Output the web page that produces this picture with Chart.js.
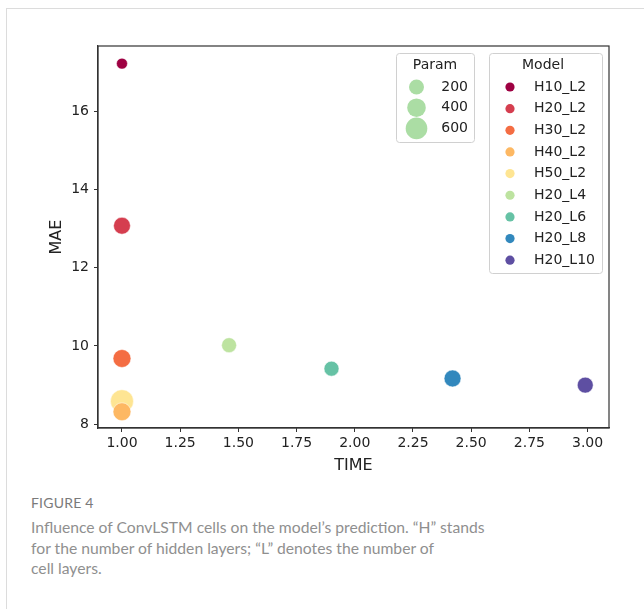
<!DOCTYPE html>
<html>
<head>
<meta charset="utf-8">
<script src="https://cdn.jsdelivr.net/npm/chart.js@4"></script>
<style>
  html, body { margin: 0; padding: 0; background: #fff; }
  body { width: 644px; height: 609px; position: relative; overflow: hidden; }
  .card { position: absolute; left: 6px; top: 8px; width: 700px; height: 700px;
          border-left: 1px solid #dcdcdc; border-top: 1px solid #dcdcdc; }
  #chart { position: absolute; left: 0; top: 0; }
  .fig { position: absolute; left: 31px; top: 494px; font-family: Lato, "Open Sans", sans-serif;
         font-size: 14px; color: #7a7a7a; letter-spacing: 0.2px; }
  .cap { position: absolute; left: 31px; top: 517px; font-family: Lato, "Open Sans", sans-serif;
         font-size: 15.7px; line-height: 20.5px; color: #8f8f8f; white-space: nowrap; }
</style>
</head>
<body>
<div class="card"></div>
<canvas id="chart" width="644" height="490"></canvas>
<div class="fig">FIGURE 4</div>
<div class="cap">Influence of ConvLSTM cells on the model’s prediction. “H” stands<br>for the number of hidden layers; “L” denotes the number of<br>cell layers.</div>
<script>
// data
var models = ["H10_L2", "H20_L2", "H30_L2", "H40_L2", "H50_L2", "H20_L4", "H20_L6", "H20_L8", "H20_L10"];
var timeVals = [1.00, 1.00, 1.00, 1.00, 1.00, 1.46, 1.90, 2.42, 2.99];
var maeVals = [17.21, 13.07, 9.68, 8.32, 8.59, 10.02, 9.42, 9.17, 9.00];
var paramVals = [30, 300, 360, 360, 700, 200, 200, 300, 250];
var paramLegend = [200, 400, 600];
var xTicks = [1.00, 1.25, 1.50, 1.75, 2.00, 2.25, 2.50, 2.75, 3.00];
var yTicks = [8, 10, 12, 14, 16];

var modelColors = ["#9e0142", "#d53e4f", "#f46d43", "#fdb863", "#fee593",
                   "#bde3a0", "#66c2a5", "#3288bd", "#5e4fa2"];
var sizeColor = "#abdda4";
var ink = "#222222";
var tickFont = { family: "'DejaVu Sans'", size: 14 };

// marker area grows with the parameter count
function radiusFor(p) {
    return Math.sqrt(25.5 + 0.1525 * p);
}

var datasets = models.map(function (m, i) {
    return {
        label: m,
        data: [{ x: timeVals[i], y: maeVals[i] }],
        backgroundColor: modelColors[i],
        borderColor: "#ffffff",
        borderWidth: 0.5,
        pointRadius: radiusFor(paramVals[i]),
        pointHoverRadius: radiusFor(paramVals[i])
    };
});

function legendBox(ctx, x, y, w, h) {
    ctx.save();
    ctx.fillStyle = "rgba(255,255,255,0.8)";
    ctx.strokeStyle = "#d0d0d0";
    ctx.lineWidth = 1;
    ctx.beginPath();
    ctx.roundRect(x + 0.5, y + 0.5, w, h, 3);
    ctx.fill();
    ctx.stroke();
    ctx.restore();
}

var framePlugin = {
    id: "frame",
    afterDatasetsDraw: function (chart) {
        var a = chart.chartArea, ctx = chart.ctx;
        ctx.save();
        ctx.strokeStyle = "#333";
        ctx.lineWidth = 1.2;
        ctx.strokeRect(a.left, a.top, a.right - a.left, a.bottom - a.top);
        ctx.restore();
    },
    afterDraw: function (chart) {
        var ctx = chart.ctx;
        ctx.save();
        ctx.font = "14px 'DejaVu Sans'";
        ctx.textBaseline = "middle";

        // size legend
        legendBox(ctx, 396, 53, 78, 89);
        ctx.fillStyle = ink;
        ctx.textAlign = "center";
        ctx.fillText("Param", 435, 65);
        paramLegend.forEach(function (p, i) {
            var cy = 87 + i * 20.7;
            ctx.beginPath();
            ctx.fillStyle = sizeColor;
            ctx.arc(416.5, cy, radiusFor(p), 0, Math.PI * 2);
            ctx.fill();
            ctx.fillStyle = ink;
            ctx.textAlign = "right";
            ctx.fillText(String(p), 468, cy);
        });

        // colour legend
        legendBox(ctx, 489, 53, 113, 220);
        ctx.textAlign = "center";
        ctx.fillText("Model", 543, 65);
        chart.data.datasets.forEach(function (ds, i) {
            var cy = 87 + i * 21.65;
            ctx.beginPath();
            ctx.fillStyle = ds.backgroundColor;
            ctx.arc(510, cy, 4.6, 0, Math.PI * 2);
            ctx.fill();
            ctx.fillStyle = ink;
            ctx.textAlign = "left";
            ctx.fillText(ds.label, 534, cy);
        });
        ctx.restore();
    }
};

new Chart(document.getElementById("chart"), {
    type: "scatter",
    data: { datasets: datasets },
    plugins: [framePlugin],
    options: {
        responsive: false,
        devicePixelRatio: 1,
        animation: false,
        layout: { padding: { left: 20, right: 35, top: 46, bottom: 10 } },
        plugins: { legend: { display: false }, tooltip: { enabled: false } },
        scales: {
            x: {
                type: "linear",
                min: 0.897,
                max: 3.092,
                afterFit: function (s) { s.height = 52; },
                afterBuildTicks: function (s) {
                    s.ticks = xTicks.map(function (v) { return { value: v }; });
                },
                ticks: {
                    color: ink, font: tickFont, padding: 3, maxRotation: 0,
                    callback: function (v) { return Number(v).toFixed(2); }
                },
                grid: { drawOnChartArea: false, drawTicks: true, tickLength: 4, color: "#333", lineWidth: 1 },
                border: { display: true, color: "#333", width: 1.2 },
                title: { display: true, text: "TIME", color: ink,
                         font: { family: "'DejaVu Sans'", size: 16 }, padding: { top: 0, bottom: 5 } }
            },
            y: {
                type: "linear",
                min: 7.905,
                max: 17.66,
                afterFit: function (s) { s.width = 78; },
                afterBuildTicks: function (s) {
                    s.ticks = yTicks.map(function (v) { return { value: v }; });
                },
                ticks: {
                    color: ink, font: tickFont, padding: 5,
                    callback: function (v) { return String(v); }
                },
                grid: { drawOnChartArea: false, drawTicks: true, tickLength: 4, color: "#333", lineWidth: 1 },
                border: { display: true, color: "#333", width: 1.2 },
                title: { display: true, text: "MAE", color: ink,
                         font: { family: "'DejaVu Sans'", size: 16 }, padding: { top: 27, bottom: 0 } }
            }
        }
    }
});
</script>
</body>
</html>
